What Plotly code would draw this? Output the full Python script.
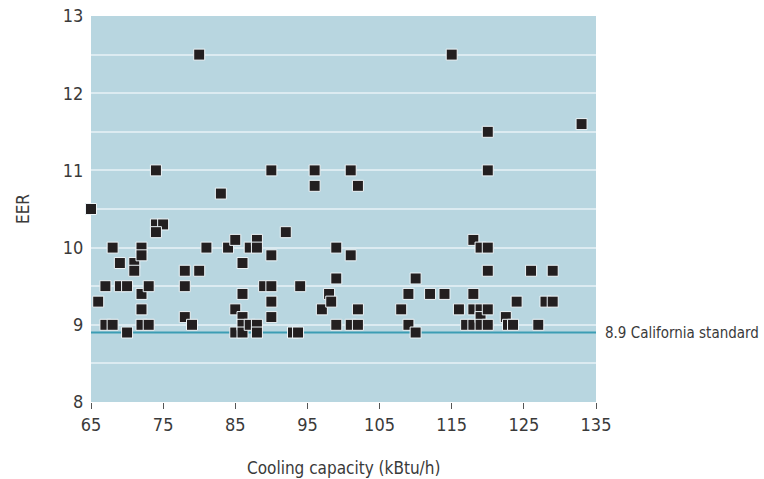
import plotly.graph_objects as go

# Cooling capacity (kBtu/h) and EER for each unit
capacity = [65, 66, 67, 67, 68, 68, 69, 69, 70, 70, 71, 71, 72, 72, 72, 72, 72,
            73, 73, 74, 74, 75, 74, 78, 78, 78, 79, 80, 80, 81, 83, 84, 85, 85,
            85, 86, 86, 86, 86, 86, 87, 87, 88, 88, 88, 88, 89, 90, 90, 90, 90,
            90, 92, 93, 93.7, 94, 96, 96, 97, 98, 98.3, 99, 99, 99, 101, 101,
            102, 102, 101, 102, 108, 109, 109, 110, 110, 112, 114, 115, 116,
            117, 118, 118, 118, 118, 119, 119, 119, 119, 120, 120, 120, 120,
            120, 120, 122.5, 122.8, 123.5, 124, 126, 127, 128, 129, 129, 133]
eer = [10.5, 9.3, 9.5, 9.0, 10.0, 9.0, 9.8, 9.5, 9.5, 8.9, 9.8, 9.7, 10.0, 9.9,
       9.4, 9.2, 9.0, 9.5, 9.0, 11.0, 10.3, 10.3, 10.2, 9.7, 9.5, 9.1, 9.0,
       12.5, 9.7, 10.0, 10.7, 10.0, 10.1, 9.2, 8.9, 9.8, 9.4, 9.1, 9.0, 8.9,
       10.0, 9.0, 10.1, 10.0, 9.0, 8.9, 9.5, 11.0, 9.9, 9.5, 9.3, 9.1, 10.2,
       8.9, 8.9, 9.5, 11.0, 10.8, 9.2, 9.4, 9.3, 10.0, 9.6, 9.0, 11.0, 9.9,
       10.8, 9.2, 9.0, 9.0, 9.2, 9.4, 9.0, 9.6, 8.9, 9.4, 9.4, 12.5, 9.2,
       9.0, 10.1, 9.4, 9.2, 9.0, 10.0, 9.2, 9.1, 9.0, 11.5, 11.0, 10.0, 9.7,
       9.2, 9.0, 9.1, 9.0, 9.0, 9.3, 9.7, 9.0, 9.3, 9.7, 9.3, 11.6]

standard_value = 8.9
standard_label = "8.9 California standard"
x_range = [65, 135]
y_range = [8, 13]
x_ticks = [65, 75, 85, 95, 105, 115, 125, 135]
y_ticks = [8, 9, 10, 11, 12, 13]
y_grid = [8.5, 9, 9.5, 10, 10.5, 11, 11.5, 12, 12.5]

FONT = "DejaVu Sans Condensed, Liberation Sans Narrow, sans-serif"
TXT = "#3a3a3a"

fig = go.Figure()
fig.add_trace(go.Scatter(
    x=x_range, y=[standard_value, standard_value], mode="lines",
    line=dict(color="#3c9db4", width=2), hoverinfo="skip", showlegend=False,
    cliponaxis=False))
fig.add_trace(go.Scatter(
    x=capacity, y=eer, mode="markers",
    marker=dict(symbol="square", size=11, color="#231f20",
                line=dict(color="#eef5f8", width=1)),
    showlegend=False, cliponaxis=False))

fig.update_layout(
    width=764, height=479,
    margin=dict(l=91, r=168, t=16, b=77, autoexpand=False),
    paper_bgcolor="white", plot_bgcolor="#b8d6e0",
    font=dict(family=FONT, size=18, color=TXT),
    xaxis=dict(range=x_range, tickvals=x_ticks, showgrid=False, zeroline=False,
               ticks="outside", ticklen=6, tickwidth=1, tickcolor="#555555",
               showline=False, automargin=False, ticklabeloverflow="allow",
               tickfont=dict(size=18, color=TXT)),
    yaxis=dict(range=y_range, tickvals=y_ticks, showgrid=False, zeroline=False,
               ticks="outside", ticklen=3, tickcolor="rgba(0,0,0,0)",
               showline=False, automargin=False, ticklabeloverflow="allow",
               tickfont=dict(size=18, color=TXT),
               minor=dict(tickvals=y_grid, showgrid=True, gridcolor="#dcebf1",
                          gridwidth=2, ticks="")),
    annotations=[
        dict(text=standard_label, xref="paper", x=1, xshift=7, xanchor="left",
             yref="y", y=standard_value, yanchor="middle", showarrow=False,
             font=dict(size=15, color=TXT)),
        dict(text="Cooling capacity (kBtu/h)", xref="paper", x=0.5,
             xanchor="center", yref="paper", y=0, yshift=-66,
             yanchor="middle", showarrow=False,
             font=dict(size=17, color=TXT)),
        dict(text="EER", xref="paper", x=0, xshift=-68, xanchor="center",
             yref="paper", y=0.5, yanchor="middle", textangle=-90,
             showarrow=False, font=dict(size=17, color=TXT)),
    ],
)

fig.write_html(
    "out.html",
    config={"displayModeBar": False},
    post_script="document.body.style.margin='0';document.body.style.overflow='hidden';",
)
